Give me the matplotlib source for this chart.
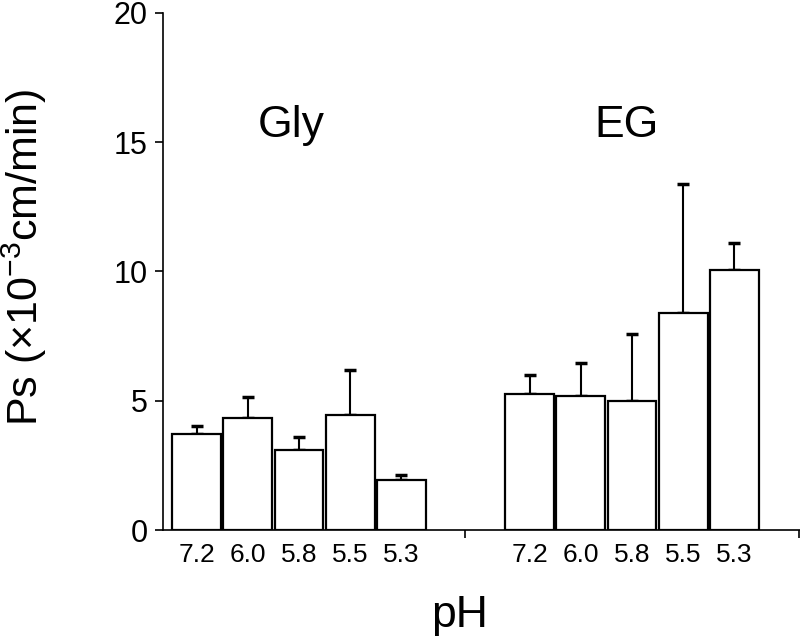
import matplotlib
matplotlib.use("Agg")
import matplotlib.pyplot as plt

plt.rcParams['font.family'] = ['Liberation Sans', 'DejaVu Sans']
plt.rcParams['mathtext.fontset'] = 'custom'
plt.rcParams['mathtext.rm'] = 'Liberation Sans'
plt.rcParams['mathtext.it'] = 'Liberation Sans'

ph_labels = ['7.2', '6.0', '5.8', '5.5', '5.3']
gly_vals = [3.7, 4.35, 3.1, 4.45, 1.95]
gly_err = [0.33, 0.8, 0.5, 1.75, 0.2]
eg_vals = [5.25, 5.2, 5.0, 8.4, 10.05]
eg_err = [0.75, 1.25, 2.6, 5.0, 1.05]
groups = ['Gly', 'EG']

gly_x = [0, 1, 2, 3, 4]
eg_x = [6.5, 7.5, 8.5, 9.5, 10.5]

fig = plt.figure(figsize=(8, 6.38), dpi=100)
ax = fig.add_axes([0.204, 0.169, 0.796, 0.811])

for xs, vals, errs in [(gly_x, gly_vals, gly_err), (eg_x, eg_vals, eg_err)]:
    ax.bar(xs, vals, width=0.95, color='white', edgecolor='black', linewidth=1.6, zorder=2)
    ax.errorbar(xs, vals, yerr=[[0] * len(errs), errs], fmt='none', ecolor='black',
                elinewidth=1.5, capsize=4.5, capthick=2.5, zorder=1)

ax.set_xlim(-0.65, 11.78)
ax.set_ylim(0, 20)
ax.set_yticks([0, 5, 10, 15, 20])
ax.tick_params(axis='y', labelsize=22, length=6, width=1.2, direction='out', pad=5)
ax.set_xticks(gly_x + eg_x)
ax.set_xticklabels(ph_labels + ph_labels)
ax.tick_params(axis='x', which='major', length=0, labelsize=19, pad=9)
ax.set_xticks([5.25, 11.77], minor=True)
ax.tick_params(axis='x', which='minor', length=6, width=1.2, direction='out')

for s in ['top', 'right']:
    ax.spines[s].set_visible(False)
for s in ['left', 'bottom']:
    ax.spines[s].set_linewidth(1.2)

ax.text(1.84, 15.2, groups[0], fontsize=32, ha='center', va='baseline')
ax.text(8.4, 15.2, groups[1], fontsize=32, ha='center', va='baseline')

fig.text(0.031, 0.597, 'Ps (×10$^{-3}$cm/min)', fontsize=31, rotation=90,
         ha='center', va='center')
fig.text(0.575, 0.017, 'pH', fontsize=32, ha='center', va='baseline')

fig.savefig('out.png', dpi=100)
